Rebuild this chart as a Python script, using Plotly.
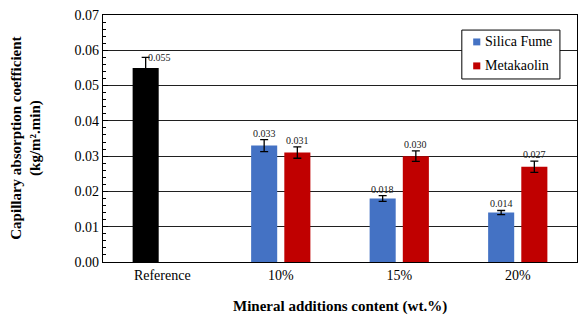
import plotly.graph_objects as go

categories = ["Reference", "10%", "15%", "20%"]
silica_fume = [0.055, 0.033, 0.018, 0.014]
silica_err = [0.003, 0.0017, 0.0008, 0.0006]
metakaolin = [None, 0.031, 0.030, 0.027]
meta_err = [None, 0.0016, 0.0015, 0.0016]
y_ticks = [0.00, 0.01, 0.02, 0.03, 0.04, 0.05, 0.06, 0.07]
legend_names = ["Silica Fume", "Metakaolin"]

FONT = "Liberation Serif, Times New Roman, serif"
BLUE = "#4472C4"
RED = "#C00000"
W = 0.22
OFF_SF = -0.25
OFF_MK = 0.03

xs = list(range(len(categories)))
sf_colors = ["#000000"] + [BLUE] * (len(categories) - 1)

fig = go.Figure()
fig.add_trace(go.Bar(
    x=xs, y=silica_fume, width=W, offset=OFF_SF, name=legend_names[0],
    marker=dict(color=sf_colors, line=dict(width=0)),
    error_y=dict(type="data", array=silica_err, color="black", thickness=1.3, width=4),
    showlegend=False,
))
fig.add_trace(go.Bar(
    x=xs, y=metakaolin, width=W, offset=OFF_MK, name=legend_names[1],
    marker=dict(color=RED, line=dict(width=0)),
    error_y=dict(type="data", array=meta_err, color="black", thickness=1.3, width=4),
    showlegend=False,
))

annotations = []
lab_font = dict(family=FONT, size=10, color="#202020")
for i, (v, e) in enumerate(zip(silica_fume, silica_err)):
    if i == 0:
        annotations.append(dict(x=i + OFF_SF + W / 2, y=v + e, text=f"{v:.3f}",
                                xanchor="left", yanchor="middle", showarrow=False,
                                xshift=0, font=lab_font))
    else:
        annotations.append(dict(x=i + OFF_SF + W / 2, y=v + e, text=f"{v:.3f}",
                                xanchor="center", yanchor="bottom", showarrow=False,
                                yshift=-1, font=lab_font))
for i, (v, e) in enumerate(zip(metakaolin, meta_err)):
    if v is None:
        continue
    annotations.append(dict(x=i + OFF_MK + W / 2, y=v + e, text=f"{v:.3f}",
                            xanchor="center", yanchor="bottom", showarrow=False,
                            yshift=-1, font=lab_font))

annotations.append(dict(xref="paper", yref="paper", x=-0.162, y=0.5,
                        text="<b>Capillary absorption coefficient<br>(kg/m².min)</b>",
                        textangle=-90, showarrow=False, xanchor="center", yanchor="middle",
                        font=dict(family=FONT, size=15, color="black")))
annotations.append(dict(xref="paper", yref="paper", x=0.5, y=-0.182,
                        text="<b>Mineral additions content (wt.%)</b>",
                        showarrow=False, xanchor="center", yanchor="middle",
                        font=dict(family=FONT, size=15, color="black")))

# legend box (manual, paper coords)
shapes = [dict(type="rect", xref="paper", yref="paper",
               x0=0.757, x1=0.964, y0=0.741, y1=0.939,
               line=dict(color="black", width=1), fillcolor="white", layer="above")]
leg_colors = [BLUE, RED]
leg_y = [0.891, 0.794]
for name, col, ly in zip(legend_names, leg_colors, leg_y):
    shapes.append(dict(type="rect", xref="paper", yref="paper",
                       x0=0.781, x1=0.796, y0=ly - 0.014, y1=ly + 0.014,
                       line=dict(width=0), fillcolor=col, layer="above"))
    annotations.append(dict(xref="paper", yref="paper", x=0.802, y=ly, text=name,
                            xanchor="left", yanchor="middle", showarrow=False,
                            font=dict(family=FONT, size=14, color="black")))

fig.update_layout(
    width=584, height=324,
    margin=dict(l=103, r=7, t=15, b=62),
    paper_bgcolor="white", plot_bgcolor="white",
    font=dict(family=FONT, size=14, color="black"),
    annotations=annotations, shapes=shapes,
    showlegend=False,
    xaxis=dict(range=[-0.5, 3.5], tickvals=xs, ticktext=categories,
               showgrid=False, showline=True, linecolor="black", linewidth=1.3,
               mirror=True, ticks="", zeroline=False,
               tickfont=dict(family=FONT, size=14, color="black")),
    yaxis=dict(range=[0, 0.07], tickvals=y_ticks, tickformat=".2f",
               showgrid=True, gridcolor="#202020", gridwidth=1,
               showline=True, linecolor="black", linewidth=1.3, mirror=True,
               ticks="inside", ticklen=5, tickcolor="black", zeroline=False,
               minor=dict(dtick=0.002, ticks="inside", ticklen=3, tickcolor="black", showgrid=False),
               tickfont=dict(family=FONT, size=14, color="black")),
)

fig.write_html("out.html", post_script="document.body.style.margin='0';",
               config={"displayModeBar": False})
